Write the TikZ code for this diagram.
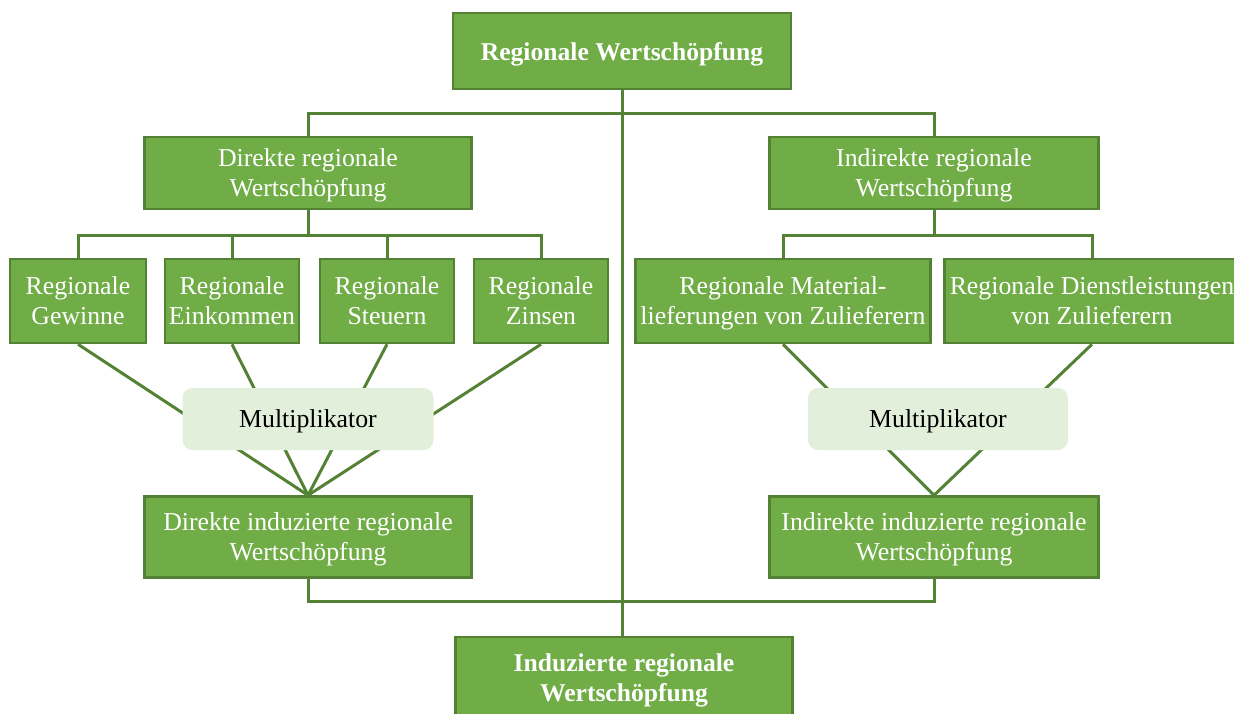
\documentclass[tikz,border=0pt]{standalone}
\usepackage{fontspec}
\setmainfont{Liberation Serif}
\definecolor{gfill}{HTML}{70AD47}
\definecolor{gline}{HTML}{548235}
\definecolor{mfill}{HTML}{E2EFDA}
\begin{document}
\begin{tikzpicture}[x=1pt,y=-1pt,
  box/.style={draw=gline, line width=2.5pt, fill=gfill, text=white,
    font=\fontsize{25.8}{30}\selectfont, align=center, inner sep=0pt, text depth=0pt},
  boldbox/.style={box, font=\fontsize{25.6}{30}\selectfont\bfseries},
  multbox/.style={fill=mfill, rounded corners=10pt, text=black, text depth=0pt,
    font=\fontsize{25.8}{30}\selectfont, inner sep=0pt, minimum width=251pt, minimum height=62pt},
  conn/.style={draw=gline, line width=3pt}]
\useasboundingbox (0,0) rectangle (1234,713);
\clip (0,0) rectangle (1234,713);
% boxes
\node[boldbox, minimum width=338pt, minimum height=76pt] (top) at (622,51) {Regionale Wertschöpfung};
\node[box, minimum width=327pt, minimum height=72pt] (dir) at (308,173) {Direkte regionale\\Wertschöpfung};
\node[box, minimum width=329pt, minimum height=72pt] (indir) at (934,173) {Indirekte regionale\\Wertschöpfung};
\node[box, minimum width=136pt, minimum height=84pt] (gew) at (78,301) {Regionale\\Gewinne};
\node[box, minimum width=134pt, minimum height=84pt] (ein) at (232,301) {Regionale\\Einkommen};
\node[box, minimum width=134pt, minimum height=84pt] (steu) at (387,301) {Regionale\\Steuern};
\node[box, minimum width=134pt, minimum height=84pt] (zin) at (541,301) {Regionale\\Zinsen};
\node[box, minimum width=295pt, minimum height=84pt] (mat) at (783,301) {Regionale Material-\\lieferungen von Zulieferern};
\node[box, minimum width=295pt, minimum height=84pt] (dienst) at (1092,301) {Regionale Dienstleistungen\\von Zulieferern};
\node[box, minimum width=327pt, minimum height=81pt] (dind) at (308,537) {Direkte induzierte regionale\\Wertschöpfung};
\node[box, minimum width=329pt, minimum height=81pt] (iind) at (934,537) {Indirekte induzierte regionale\\Wertschöpfung};
\node[boldbox, minimum width=337pt, minimum height=82pt] (ind) at (624,678) {Induzierte regionale\\Wertschöpfung};
% junctions
\coordinate (j1) at (622,113);
\coordinate (j2) at (308,235);
\coordinate (j3) at (934,235);
\coordinate (j4) at (622,601);
% connectors
\draw[conn] (top.south) -- (j1 |- ind.north);
\draw[conn] (dir.north) |- (j1) -| (indir.north);
\draw[conn] (dir.south) -- (j2);
\draw[conn] (gew.north) |- (j2) -| (zin.north);
\draw[conn] (ein.north) -- (ein.north |- j2);
\draw[conn] (steu.north) -- (steu.north |- j2);
\draw[conn] (indir.south) -- (j3);
\draw[conn] (mat.north) |- (j3) -| (dienst.north);
\draw[conn] (dind.south) |- (j4) -| (iind.south);
\foreach \s in {gew,ein,steu,zin} \draw[conn] (\s.south) -- (dind.north);
\foreach \s in {mat,dienst} \draw[conn] (\s.south) -- (iind.north);
% multipliers on top
\node[multbox] (m1) at (308,419) {Multiplikator};
\node[multbox, minimum width=260pt] (m2) at (938,419) {Multiplikator};
\end{tikzpicture}
\end{document}
